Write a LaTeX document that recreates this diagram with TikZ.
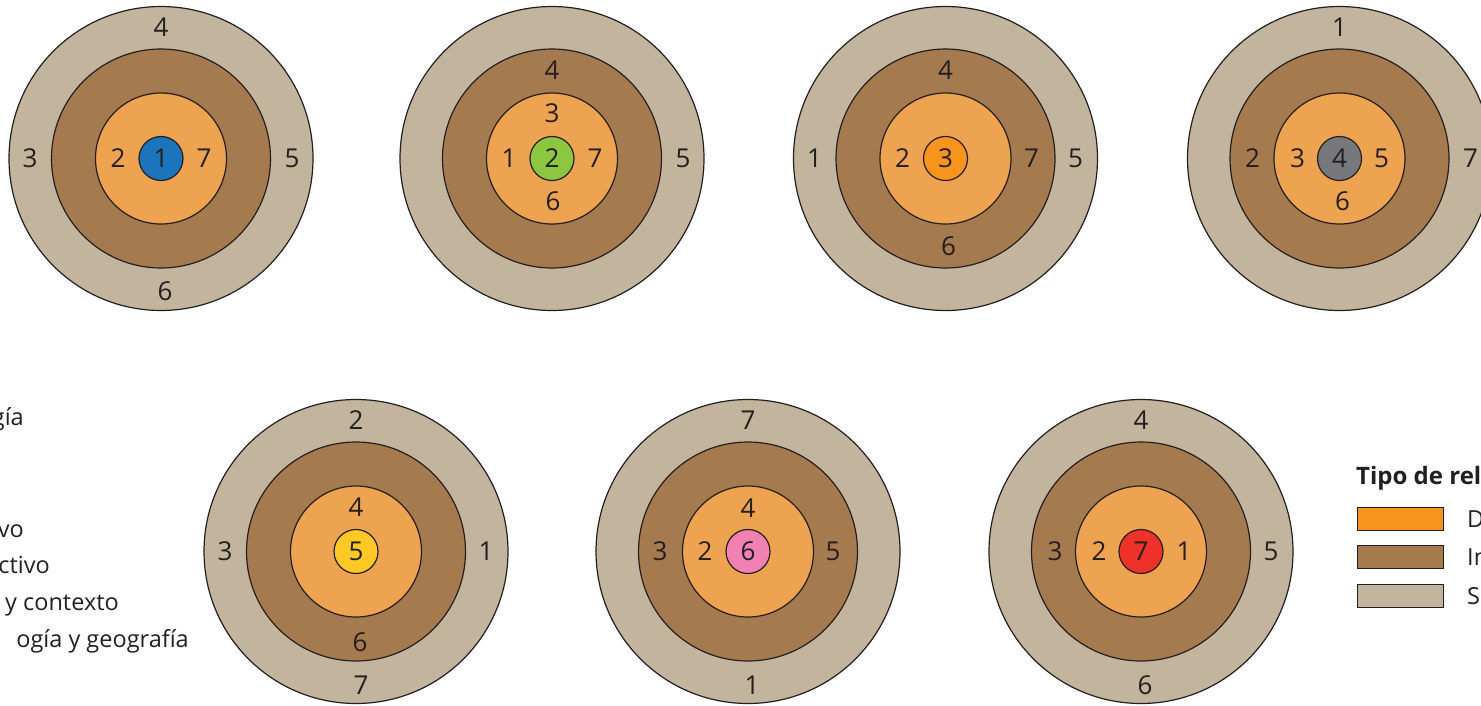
\documentclass[tikz,border=0pt]{standalone}
\usepackage{fontspec}
\setmainfont{Open Sans}
\definecolor{outerc}{HTML}{C3B59D}
\definecolor{midc}{HTML}{A67A4F}
\definecolor{innc}{HTML}{EEA351}
\definecolor{inkc}{HTML}{231F20}
\definecolor{cblue}{HTML}{1C75BC}
\definecolor{cgreen}{HTML}{8DC63F}
\definecolor{corange}{HTML}{F7941D}
\definecolor{cgray}{HTML}{77787B}
\definecolor{cyellow}{HTML}{FFC824}
\definecolor{cpink}{HTML}{F181B3}
\definecolor{cred}{HTML}{EE3129}
\tikzset{
  ring/.style={draw=inkc, line width=1.2pt},
  num/.style={inner sep=0pt, font=\fontsize{26}{30}\selectfont, text=inkc},
  lbl/.style={inner sep=0pt, font=\fontsize{23.5}{28}\selectfont, text=inkc},
  legbox/.style={draw=inkc, line width=1.2pt, minimum width=86pt, minimum height=23pt, inner sep=0pt},
}
\newcommand\mytarget[2]{%
  \fill[outerc] (0,0) circle (152pt); \draw[ring] (0,0) circle (152pt);
  \fill[midc] (0,0) circle (109.5pt); \draw[ring] (0,0) circle (109.5pt);
  \fill[innc] (0,0) circle (65.5pt); \draw[ring] (0,0) circle (65.5pt);
  \fill[#1] (0,0) circle (22pt); \draw[ring] (0,0) circle (22pt);
  \node[num] at (0,0) {#2};
}
\begin{document}
\begin{tikzpicture}[x=1pt,y=-1pt]
\useasboundingbox (0,0) rectangle (1481,705);
% target 1
\begin{scope}[shift={(161,158.5)}]
  \mytarget{cblue}{1}
  \node[num] (a2) at (-43,0) {2};
  \node[num] (a7) at (43,0) {7};
  \node[num] (a4) at (0,-131) {4};
  \node[num] (a3) at (-131,0) {3};
  \node[num] (a5) at (131,0) {5};
  \node[num] (a6) at (4,133) {6};
\end{scope}
% target 2
\begin{scope}[shift={(552,158.5)}]
  \mytarget{cgreen}{2}
  \node[num] (b3) at (0,-45) {3};
  \node[num] (b1) at (-43,0) {1};
  \node[num] (b7) at (43,0) {7};
  \node[num] (b6) at (1,43) {6};
  \node[num] (b4) at (0,-88) {4};
  \node[num] (b5) at (131,0) {5};
\end{scope}
% target 3
\begin{scope}[shift={(945.5,158.5)}]
  \mytarget{corange}{3}
  \node[num] (c2) at (-43,0) {2};
  \node[num] (c4) at (0,-88) {4};
  \node[num] (c7) at (86,0) {7};
  \node[num] (c6) at (3,88) {6};
  \node[num] (c1) at (-131,0) {1};
  \node[num] (c5) at (130,0) {5};
\end{scope}
% target 4
\begin{scope}[shift={(1339.5,158.5)}]
  \mytarget{cgray}{4}
  \node[num] (d3) at (-42,0) {3};
  \node[num] (d5) at (42,0) {5};
  \node[num] (d6) at (3,43) {6};
  \node[num] (d2) at (-87,0) {2};
  \node[num] (d1) at (0,-131) {1};
  \node[num] (d7) at (131,0) {7};
\end{scope}
% target 5
\begin{scope}[shift={(356,551.5)}]
  \mytarget{cyellow}{5}
  \node[num] (e4) at (0,-44) {4};
  \node[num] (e6) at (4,91) {6};
  \node[num] (e2) at (0,-131) {2};
  \node[num] (e3) at (-131,0) {3};
  \node[num] (e1) at (130,0) {1};
  \node[num] (e7) at (5,134) {7};
\end{scope}
% target 6
\begin{scope}[shift={(748,551.5)}]
  \mytarget{cpink}{6}
  \node[num] (f4) at (0,-43) {4};
  \node[num] (f2) at (-43,0) {2};
  \node[num] (f3) at (-88,0) {3};
  \node[num] (f5) at (85,0) {5};
  \node[num] (f7) at (0,-131) {7};
  \node[num] (f1) at (4,134) {1};
\end{scope}
% target 7
\begin{scope}[shift={(1141,551.5)}]
  \mytarget{cred}{7}
  \node[num] (g2) at (-42,0) {2};
  \node[num] (g1) at (43,0) {1};
  \node[num] (g3) at (-86,0) {3};
  \node[num] (g4) at (0,-131) {4};
  \node[num] (g5) at (130,0) {5};
  \node[num] (g6) at (4,134) {6};
\end{scope}
% left legend fragments
\node[lbl, anchor=base east] (l1) at (24,425) {gía};
\node[lbl, anchor=base east] (l4) at (24,537) {vo};
\node[lbl, anchor=base east] (l5) at (50,573) {ctivo};
\node[lbl, anchor=base east] (l6) at (119,610) {y contexto};
\node[lbl, anchor=base east] (l7) at (189,647) {ogía y geografía};
% right legend
\node[lbl, anchor=base west, font=\bfseries\fontsize{24}{29}\selectfont] (lt) at (1356,484) {Tipo de relación};
\node[legbox, fill=corange, anchor=north west] (k1) at (1357,507) {};
\node[legbox, fill=midc, anchor=north west] (k2) at (1357,545) {};
\node[legbox, fill=outerc, anchor=north west] (k3) at (1357,584) {};
\node[lbl, anchor=west] (t1) at (1467,518.5) {Directa};
\node[lbl, anchor=west] (t2) at (1467,556.5) {Indirecta};
\node[lbl, anchor=west] (t3) at (1467,595.5) {Secundaria};
\end{tikzpicture}
\end{document}
